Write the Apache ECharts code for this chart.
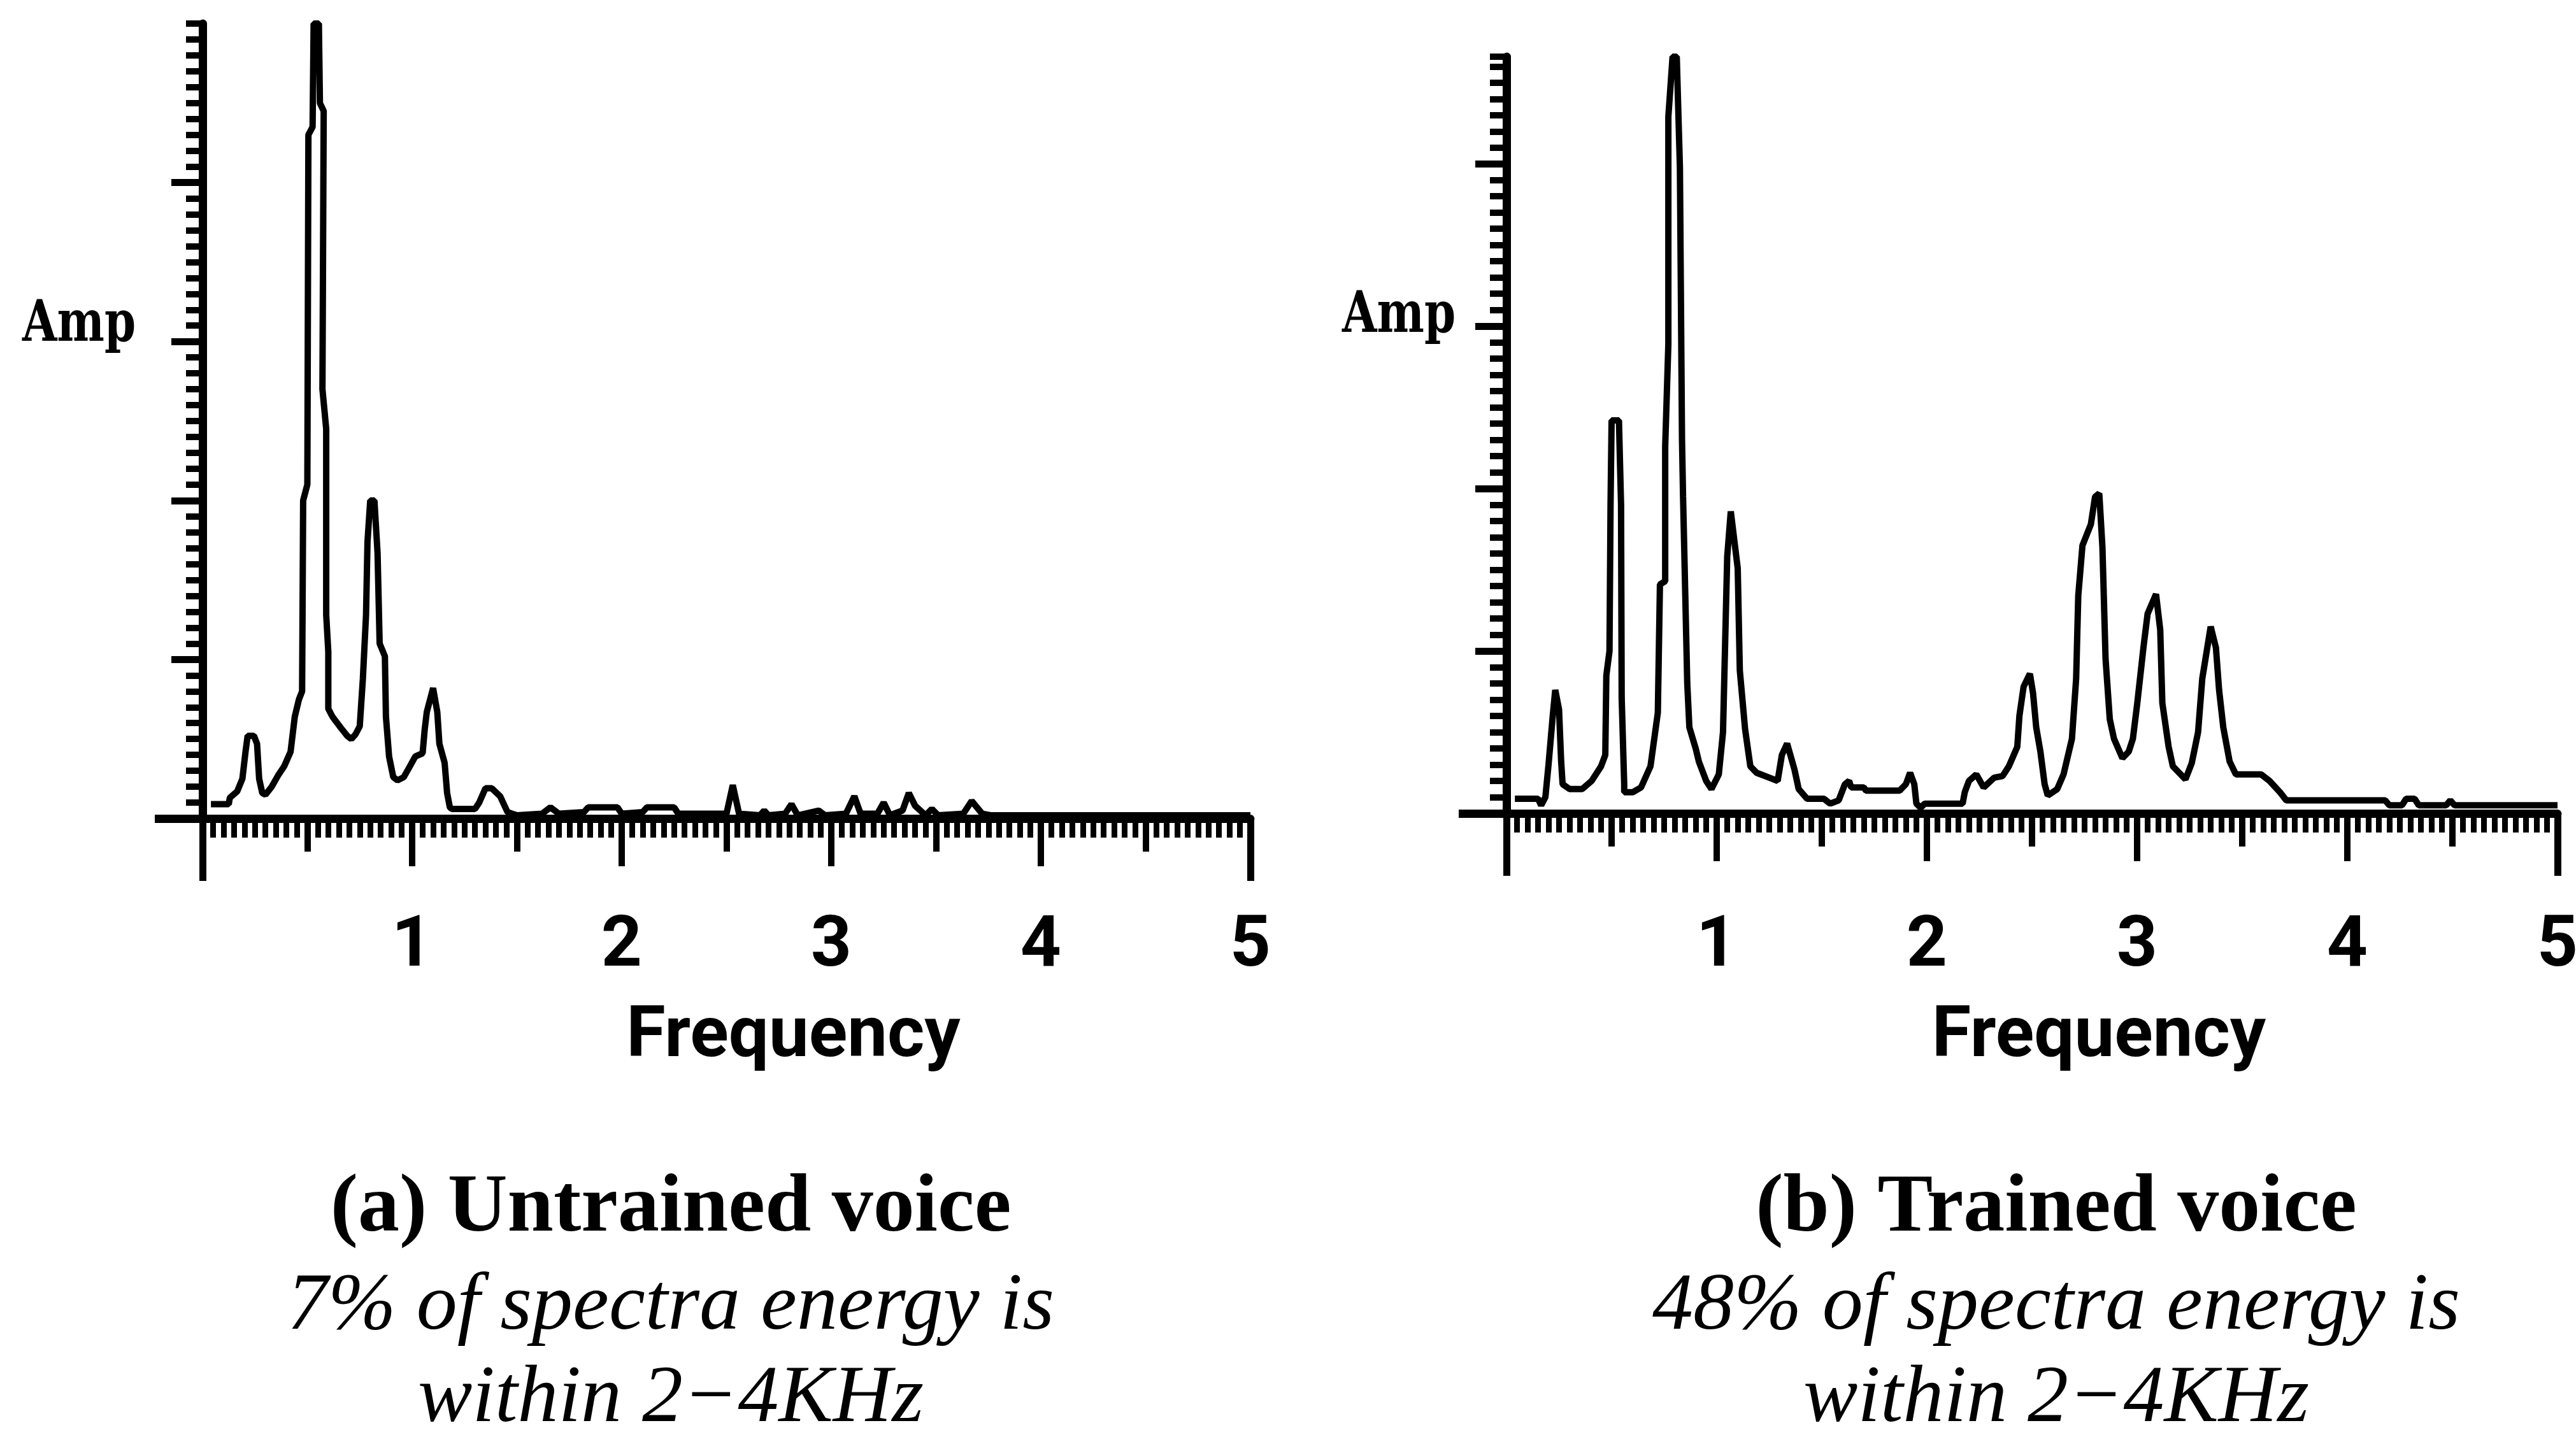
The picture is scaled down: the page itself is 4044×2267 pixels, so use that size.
<!DOCTYPE html>
<html>
<head>
<meta charset="utf-8">
<title>Voice spectra</title>
<script src="https://cdn.jsdelivr.net/npm/echarts@6/dist/echarts.min.js"></script>
<style>
  html, body { margin: 0; padding: 0; background: #fff; }
  #chart { width: 4044px; height: 2267px; }
</style>
</head>
<body>
<div id="chart"></div>
<script>
// Spectrum of the untrained voice: frequency (kHz) and relative amplitude
const untrainedFreq = [0.04, 0.125, 0.13, 0.165, 0.19, 0.205, 0.215, 0.245, 0.26, 0.27, 0.285, 0.30, 0.33, 0.36, 0.39, 0.42, 0.44, 0.46, 0.475, 0.48, 0.50, 0.505, 0.525, 0.53, 0.555, 0.56, 0.578, 0.572, 0.59, 0.59, 0.60, 0.60, 0.62, 0.66, 0.69, 0.71, 0.73, 0.75, 0.765, 0.78, 0.787, 0.80, 0.82, 0.835, 0.845, 0.87, 0.875, 0.89, 0.91, 0.93, 0.96, 0.99, 1.015, 1.05, 1.06, 1.07, 1.10, 1.12, 1.13, 1.155, 1.167, 1.18, 1.19, 1.30, 1.32, 1.35, 1.38, 1.42, 1.455, 1.50, 1.62, 1.66, 1.70, 1.82, 1.84, 1.98, 2.00, 2.10, 2.12, 2.25, 2.27, 2.50, 2.53, 2.56, 2.66, 2.68, 2.70, 2.78, 2.81, 2.84, 2.94, 2.97, 3.07, 3.11, 3.14, 3.22, 3.25, 3.28, 3.34, 3.37, 3.40, 3.45, 3.48, 3.51, 3.63, 3.67, 3.72, 3.76, 5.00];
const untrainedAmp = [0.09, 0.09, 0.13, 0.17, 0.25, 0.42, 0.52, 0.52, 0.47, 0.25, 0.16, 0.15, 0.20, 0.27, 0.33, 0.42, 0.64, 0.75, 0.80, 2.00, 2.10, 4.30, 4.35, 5.00, 5.00, 4.50, 4.45, 2.70, 2.45, 1.28, 1.05, 0.69, 0.64, 0.57, 0.52, 0.50, 0.53, 0.58, 0.88, 1.28, 1.74, 2.00, 2.00, 1.67, 1.10, 1.02, 0.64, 0.39, 0.26, 0.24, 0.26, 0.33, 0.39, 0.41, 0.56, 0.67, 0.82, 0.67, 0.47, 0.35, 0.16, 0.07, 0.06, 0.06, 0.10, 0.19, 0.19, 0.14, 0.04, 0.02, 0.03, 0.07, 0.03, 0.04, 0.07, 0.07, 0.03, 0.04, 0.07, 0.07, 0.03, 0.03, 0.21, 0.03, 0.02, 0.05, 0.02, 0.03, 0.09, 0.02, 0.05, 0.02, 0.03, 0.14, 0.03, 0.03, 0.10, 0.02, 0.05, 0.16, 0.08, 0.02, 0.06, 0.02, 0.03, 0.11, 0.03, 0.02, 0.02];

// Spectrum of the trained voice
const trainedFreq = [0.04, 0.15, 0.165, 0.185, 0.20, 0.22, 0.232, 0.25, 0.26, 0.267, 0.30, 0.36, 0.405, 0.45, 0.47, 0.475, 0.49, 0.495, 0.50, 0.535, 0.545, 0.548, 0.56, 0.56, 0.60, 0.64, 0.685, 0.72, 0.73, 0.755, 0.755, 0.77, 0.77, 0.79, 0.81, 0.825, 0.835, 0.84, 0.86, 0.87, 0.90, 0.915, 0.95, 0.975, 1.01, 1.03, 1.04, 1.05, 1.067, 1.10, 1.11, 1.135, 1.16, 1.19, 1.25, 1.29, 1.31, 1.335, 1.37, 1.39, 1.43, 1.51, 1.54, 1.58, 1.61, 1.63, 1.64, 1.70, 1.71, 1.87, 1.90, 1.92, 1.94, 1.95, 1.97, 1.99, 2.17, 2.18, 2.20, 2.235, 2.27, 2.32, 2.36, 2.39, 2.43, 2.44, 2.46, 2.49, 2.505, 2.52, 2.54, 2.56, 2.575, 2.62, 2.65, 2.69, 2.71, 2.72, 2.74, 2.78, 2.80, 2.82, 2.835, 2.85, 2.87, 2.89, 2.93, 2.96, 2.98, 3.00, 3.03, 3.05, 3.09, 3.11, 3.12, 3.15, 3.17, 3.23, 3.26, 3.29, 3.31, 3.35, 3.375, 3.39, 3.41, 3.44, 3.47, 3.59, 3.63, 3.68, 3.71, 4.18, 4.20, 4.26, 4.28, 4.32, 4.34, 4.47, 4.49, 4.51, 5.00];
const trainedAmp = [0.09, 0.09, 0.05, 0.10, 0.30, 0.60, 0.76, 0.64, 0.32, 0.18, 0.15, 0.15, 0.20, 0.29, 0.36, 0.85, 1.00, 1.90, 2.42, 2.42, 1.90, 0.71, 0.18, 0.13, 0.13, 0.16, 0.29, 0.62, 1.41, 1.43, 2.26, 2.89, 4.29, 4.66, 4.66, 3.98, 2.30, 1.95, 0.80, 0.53, 0.40, 0.32, 0.20, 0.15, 0.24, 0.50, 1.04, 1.58, 1.86, 1.51, 0.88, 0.52, 0.29, 0.25, 0.22, 0.20, 0.36, 0.43, 0.27, 0.15, 0.09, 0.09, 0.06, 0.08, 0.18, 0.20, 0.16, 0.16, 0.14, 0.14, 0.18, 0.25, 0.18, 0.06, 0.035, 0.06, 0.06, 0.13, 0.20, 0.24, 0.16, 0.22, 0.23, 0.29, 0.41, 0.60, 0.78, 0.86, 0.74, 0.53, 0.38, 0.18, 0.11, 0.15, 0.24, 0.46, 0.83, 1.34, 1.65, 1.78, 1.95, 1.97, 1.64, 0.95, 0.58, 0.46, 0.34, 0.38, 0.46, 0.67, 1.02, 1.23, 1.35, 1.13, 0.68, 0.41, 0.29, 0.21, 0.31, 0.50, 0.83, 1.15, 1.02, 0.76, 0.53, 0.32, 0.24, 0.24, 0.20, 0.13, 0.08, 0.08, 0.05, 0.05, 0.09, 0.09, 0.05, 0.05, 0.08, 0.05, 0.05];

// Axis ticks and labels
const freqLabels = [1, 2, 3, 4, 5];
const freqMajorTicks = [1, 2, 3, 4];
const freqEndTicks = [0, 5];
const ampMajorTicks = [1, 2, 3, 4];
const ampZeroTick = [0];

// Panel captions
const captionA = ['(a) Untrained voice', '7% of spectra energy is', 'within 2\u22124KHz'];
const captionB = ['(b) Trained voice', '48% of spectra energy is', 'within 2\u22124KHz'];

const INK = '#000';
const labelFont = 'Roboto';

function pairs(xs, ys) {
  return xs.map((x, i) => [x, ys[i]]);
}

// Three stacked bottom axes per panel: integer ticks + labels, half-unit and fine ticks, end ticks
function xAxesFor(gridIndex, labelMargin, nameGap) {
  return [
    {
      gridIndex, type: 'value', position: 'bottom', min: 0, max: 5, interval: 1,
      axisLine: { show: true, lineStyle: { color: INK, width: 13 } },
      axisTick: { show: true, customValues: freqMajorTicks, length: 75, lineStyle: { color: INK, width: 10 } },
      axisLabel: {
        show: true, customValues: freqLabels, margin: labelMargin,
        color: INK, fontFamily: labelFont, fontWeight: 'bold', fontSize: 112, lineHeight: 112
      },
      splitLine: { show: false },
      name: 'Frequency', nameLocation: 'middle', nameGap: nameGap, nameMoveOverlap: false,
      nameTextStyle: {
        color: INK, fontFamily: labelFont, fontWeight: 'bold', fontSize: 112, lineHeight: 112,
        padding: [0, 0, 0, 210]
      }
    },
    {
      gridIndex, type: 'value', position: 'bottom', min: 0, max: 5, interval: 0.5,
      axisLine: { show: false },
      axisTick: { show: true, length: 52, lineStyle: { color: INK, width: 10 } },
      minorTick: { show: true, splitNumber: 10, length: 30, lineStyle: { color: INK, width: 9 } },
      axisLabel: { show: false },
      splitLine: { show: false }
    },
    {
      gridIndex, type: 'value', position: 'bottom', min: 0, max: 5, interval: 1,
      axisLine: { show: false },
      axisTick: { show: true, customValues: freqEndTicks, length: 98, lineStyle: { color: INK, width: 11 } },
      axisLabel: { show: false },
      splitLine: { show: false }
    }
  ];
}

// Left axes: long ticks at whole units, fine ticks every 0.1, long stub at zero
function yAxesFor(gridIndex, yMax) {
  return [
    {
      gridIndex, type: 'value', position: 'left', min: 0, max: yMax, interval: 1,
      axisLine: { show: true, lineStyle: { color: INK, width: 13 } },
      axisTick: { show: true, customValues: ampMajorTicks, length: 49, lineStyle: { color: INK, width: 11 } },
      axisLabel: { show: false },
      splitLine: { show: false }
    },
    {
      gridIndex, type: 'value', position: 'left', min: 0, max: yMax, interval: 0.1,
      axisLine: { show: false },
      axisTick: { show: true, length: 26, lineStyle: { color: INK, width: 10 } },
      axisLabel: { show: false },
      splitLine: { show: false }
    },
    {
      gridIndex, type: 'value', position: 'left', min: 0, max: yMax, interval: 1,
      axisLine: { show: false },
      axisTick: { show: true, customValues: ampZeroTick, length: 75, lineStyle: { color: INK, width: 13 } },
      axisLabel: { show: false },
      splitLine: { show: false }
    }
  ];
}

function captionText(lines, cx) {
  const ys = [1898, 2052, 2197];
  return lines.map((t, i) => ({
    type: 'text', x: cx, y: ys[i],
    style: {
      text: t, fill: INK, align: 'center', verticalAlign: 'middle',
      font: (i === 0 ? 'bold 130px' : 'italic 128px') + ' "Liberation Serif", "Times New Roman", serif'
    }
  }));
}

function ampText(cx, cy) {
  return {
    type: 'text', x: cx, y: cy, scaleX: 0.79,
    style: {
      text: 'Amp', fill: INK, align: 'center', verticalAlign: 'middle',
      font: 'bold 89px "DejaVu Serif", serif'
    }
  };
}

const chart = echarts.init(document.getElementById('chart'), null, { renderer: 'canvas' });

chart.setOption({
  animation: false,
  backgroundColor: '#fff',
  grid: [
    { left: 318, top: 37, width: 1645, height: 1248, containLabel: false, outerBoundsMode: 'none' },
    { left: 2365, top: 89, width: 1650, height: 1188, containLabel: false, outerBoundsMode: 'none' }
  ],
  xAxis: [].concat(xAxesFor(0, 147, 289), xAxesFor(1, 155, 297)),
  yAxis: [].concat(yAxesFor(0, 5), yAxesFor(1, 4.66)),
  series: [
    {
      name: 'Untrained voice', type: 'line', xAxisIndex: 0, yAxisIndex: 0,
      data: pairs(untrainedFreq, untrainedAmp),
      showSymbol: false, clip: false, z: 5,
      lineStyle: { color: INK, width: 10, join: 'bevel' }
    },
    {
      name: 'Trained voice', type: 'line', xAxisIndex: 3, yAxisIndex: 3,
      data: pairs(trainedFreq, trainedAmp),
      showSymbol: false, clip: false, z: 5,
      lineStyle: { color: INK, width: 10, join: 'bevel' }
    }
  ],
  graphic: [].concat(
    [ampText(124, 512), ampText(2196, 498)],
    captionText(captionA, 1053),
    captionText(captionB, 3228)
  )
});
</script>
</body>
</html>
